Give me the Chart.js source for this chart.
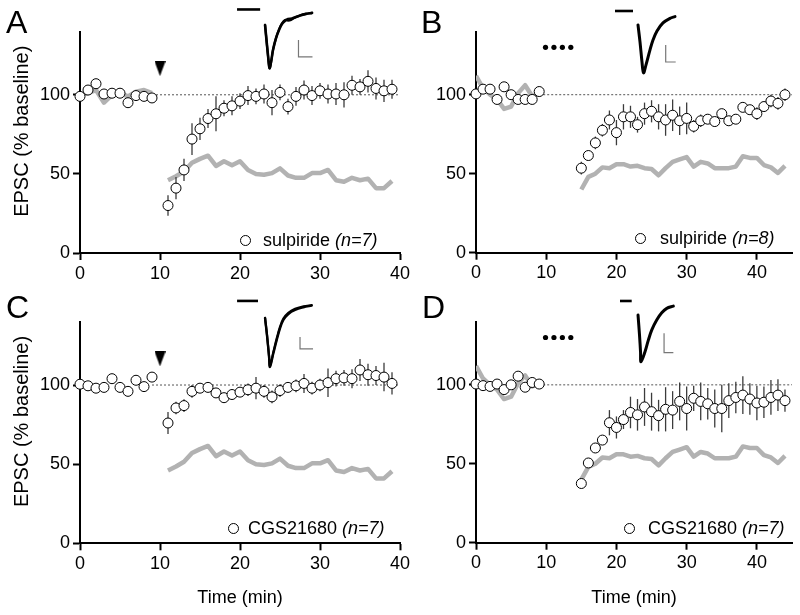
<!DOCTYPE html>
<html>
<head>
<meta charset="utf-8">
<script src="https://cdn.jsdelivr.net/npm/chart.js@4.4.0/dist/chart.umd.min.js"></script>
<style>
body { margin: 0; background: #fff; }
#fig { position: relative; width: 800px; height: 615px; overflow: hidden; font-family: 'Liberation Sans', Arial, sans-serif; color: #000; }
canvas { position: absolute; }
.lbl { position: absolute; font-size: 32px; line-height: 32px; }
.leg { position: absolute; font-size: 18px; line-height: 22px; white-space: nowrap; }
.ring { position: absolute; width: 9px; height: 9px; border: 1px solid #000; border-radius: 50%; background: #fff; }
</style>
</head>
<body>
<div id="fig">
  <canvas id="chartA" width="420" height="300" style="left:0;top:0"></canvas>
  <canvas id="chartB" width="400" height="300" style="left:400px;top:0"></canvas>
  <canvas id="chartC" width="420" height="325" style="left:0;top:290px"></canvas>
  <canvas id="chartD" width="400" height="325" style="left:400px;top:290px"></canvas>

  <canvas id="insetA" width="90" height="72" style="left:232px;top:3px"></canvas>
  <canvas id="insetB" width="78" height="75" style="left:612px;top:3px"></canvas>
  <canvas id="insetC" width="90" height="79" style="left:232px;top:293px"></canvas>
  <canvas id="insetD" width="78" height="77" style="left:612px;top:293px"></canvas>

  <div class="lbl" style="left:6px;top:6px">A</div>
  <div class="lbl" style="left:421px;top:6px">B</div>
  <div class="lbl" style="left:6px;top:291px">C</div>
  <div class="lbl" style="left:422px;top:291px">D</div>

  <div class="ring" style="left:239.5px;top:234.5px"></div>
  <div class="leg" style="left:263px;top:229px">sulpiride <i>(n=7)</i></div>
  <div class="ring" style="left:634.5px;top:232.5px"></div>
  <div class="leg" style="left:660px;top:227px">sulpiride <i>(n=8)</i></div>
  <div class="ring" style="left:228px;top:522.5px"></div>
  <div class="leg" style="left:248px;top:517px">CGS21680 <i>(n=7)</i></div>
  <div class="ring" style="left:623.5px;top:522.5px"></div>
  <div class="leg" style="left:648px;top:517px">CGS21680 <i>(n=7)</i></div>
</div>

<script>
// ---- data (time in min, EPSC in % baseline) ----
const tAC = [0,1,2,3,4,5,6,7,8,9,11,12,13,14,15,16,17,18,19,20,21,22,23,24,25,26,27,28,29,30,31,32,33,34,35,36,37,38,39];
const tBD = [0,1,2,3,4,5,6,7,8,9,15,16,17,18,19,20,21,22,23,24,25,26,27,28,29,30,31,32,33,34,35,36,37,38,39,40,41,42,43,44];

const epscA = [99,103,107,100.5,101,101,95,99.5,99,98, 30,41,52.5,72,78.5,85,88,91.5,93,96,99.5,99,100.5,95,101.5,92.5,99,103,99.5,102.5,100.5,100.5,100,106,105,108.5,104,102.5,103.5];
const semA  = [2,2,2,2,2,2,2,2,2,2, 6.5,7,7,10,7,6,11,5,6,5,6,5,6,8,5,5,6,6,6,5,6,7,8,6,5,7,7,7,6];
const epscC = [100.5,99.5,98,98.5,104,98.5,96,103,99,105, 76,85.5,87,96,98,98.5,95,92,94,95.5,97,98,96,92.5,96.5,98.5,99.5,101,98,100,101.5,104,104.5,104,109.5,106.5,106,105,101];
const semC  = [2,2,2,2,2,2,2,2,2,2, 7,4,4,4,3,3,3,3,3,3,4,7,4,4,4,3,4,6,4,4,9,5,5,6,7,7,6,9,7];
const ctrlAC = [100,101,103,95,100,101,99,102,103,101, 46,48.5,51.5,57,59.5,61.5,55,58,55.5,58,52.5,50,49.5,50.5,53.5,49,47.5,47.5,50.5,50.5,52.5,46,45,47.5,46,47,41,41,45.5];

const epscB = [100.5,103.5,103.5,97,105,100,97,97,97,102, 53.5,61.5,69.5,77.5,84,76,86,86,81,88,89.5,86,84,87,83.5,85,80,83.5,84.5,83,88,83.5,84.5,92,90.5,88,92.5,96,94.5,100];
const semB  = [2,2,2,2,2,2,2,2,2,2, 4,3,4,4,6,8,8,7,5,7,7,8,10,10,9,10,4,4,3,3,3,3,3,3,3,4,3,4,4,4];
const epscD = [100.5,99.5,99,100.5,97,100,105.5,98.5,101.5,100.5, 37.5,50.5,60,65,76,73,78,82.5,81,86,83,80.5,84.5,84,89.5,85,91.5,89.5,88,85,85,90,92,93.5,91,88.5,89,92,93.5,90];
const semD  = [2,2,2,2,2,2,2,2,2,2, 2,3,3,3,8,7,6,10,10,12,12,10,14,12,12,14,8,12,10,12,15,11,10,12,10,11,10,11,10,7];
const ctrlBD = [112,104,100,97,91,92.5,101,106,99,101, 40,48,50,54,53.5,56,56,54.5,55,53.5,53,49,53.5,57.5,59,60.5,54.5,57.5,56.5,53.5,53.5,53.5,54.5,61,60,60,55.5,54,50.5,55];

const xTicksAC = [0,10,20,30,40];
const xTicksBD = [0,10,20,30,40];
const yTicks   = [0,50,100];

// drug application markers
const arrowT = [10],  arrowY = [116.5];
const trainT = [9.9,11.1,12.3,13.5], trainY = [130,130,130,130];

// inset traces (ms, arbitrary current units; scale bar = 10 x 10)
const stimA_t = [-20,-3.5], stimA_i = [9.1,9.1];
const trA1_t = [0,0.7,2.1,3.2,4.3,5.7,7.9,10,12.1,14.3,16.4,19.3,22.1,25,29.3,33.6];
const trA1_i = [0,-5.9,-17.6,-25.3,-21.8,-14.7,-7.6,-2.9,0.6,2.4,3.5,3.8,4.7,5.6,6.5,7.1];
const trA2_t = [0,0.7,2.1,3.3,4.4,5.8,8,10,12.1,14.3,16.4,18.6,20.7,25,29.3,33.6];
const trA2_i = [0,-6,-18,-25.5,-21.5,-14.3,-7.3,-2.6,0.9,2.9,2.6,2.9,4.1,5.6,6.5,7.1];
const barA_t = [23.9,23.9,33.9], barA_i = [-8.8,-18.8,-18.8];

const stimB_t = [-23,-5], stimB_i = [8.2,8.2];
const trB_t = [0,2,4,5.5,8,12,15,19,25,32,37];
const trB_i = [0,-10,-21.8,-28.2,-23.5,-14.7,-8.8,-3.5,1.2,3.9,4.9];
const barB_t = [27.7,27.7,37.7], barB_i = [-11.8,-21.8,-21.8];

const stimC_t = [-21.5,-5.4], stimC_i = [14.2,14.2];
const trC1_t = [0,1.5,3.1,3.8,6.4,9,11.5,14.1,17.9,23.1,29.5,35.9];
const trC1_i = [0,-14.2,-32.5,-40.8,-29.4,-18.3,-8.6,-1.7,3.3,6.7,8.9,10.3];
const trC2_i = [0,-14,-32,-40,-28.4,-17,-7.4,-0.5,4.3,7.6,9.6,10.8];
const barC_t = [26.9,26.9,36.9], barC_i = [-15.8,-25.8,-25.8];

const stimD_t = [-19.4,-6.8], stimD_i = [7.4,7.4];
const trD_t = [0,1.6,2.7,3.2,7.5,11.1,14.7,20.1,25.5,30.9,38];
const trD_i = [0,-10.5,-19.5,-24.6,-19.3,-13.2,-7.9,-2.6,1.2,3.5,4.7];
const barD_t = [28,28,38], barD_i = [-9.6,-19.8,-19.8];

Chart.defaults.font.family = "'Liberation Sans', Arial, sans-serif";
Chart.defaults.color = '#000';

const zip = (xs, ys) => xs.map((x, i) => ({ x: x, y: ys[i] }));

// split a series into runs of consecutive minutes (gap = no line)
function segments(ts, ys, skipBase) {
    const out = [];
    let cur = [];
    ts.forEach((t, i) => {
        if (cur.length && t - cur[cur.length - 1].x > 1) { out.push(cur); cur = []; }
        cur.push({ x: t, y: ys[i] });
    });
    if (cur.length) out.push(cur);
    return skipBase ? out.slice(1) : out;
}

// SEM bars drawn through the chart scales, behind the circles
const errorBars = {
    id: 'errorBars',
    beforeDatasetDraw(chart, args) {
        const ds = chart.data.datasets[args.index];
        if (!ds.errors) return;
        const xs = chart.scales.x, ys = chart.scales.y, c = chart.ctx;
        c.save();
        c.strokeStyle = '#3c3c3c';
        c.lineWidth = 1.3;
        ds.data.forEach((p, i) => {
            const e = ds.errors[i];
            if (!e) return;
            const px = xs.getPixelForValue(p.x);
            c.beginPath();
            c.moveTo(px, ys.getPixelForValue(p.y - e));
            c.lineTo(px, ys.getPixelForValue(p.y + e));
            c.stroke();
        });
        c.restore();
    }
};

// rotated y title, sits a bit above the axis centre like the original
const yTitle = {
    id: 'yTitle',
    afterDraw(chart, args, opts) {
        if (!opts.text) return;
        const a = chart.chartArea, c = chart.ctx;
        c.save();
        c.translate(22, (a.top + a.bottom) / 2 - 11);
        c.rotate(-Math.PI / 2);
        c.font = "20px 'Liberation Sans', Arial, sans-serif";
        c.fillStyle = '#000';
        c.textAlign = 'center';
        c.textBaseline = 'middle';
        c.fillText(opts.text, 0, 0);
        c.restore();
    }
};

// arrow head used for the single HFS train
const arrowImg = document.createElement('canvas');
arrowImg.width = 11; arrowImg.height = 15;
(function () {
    const a = arrowImg.getContext('2d');
    a.fillStyle = '#000';
    a.beginPath(); a.moveTo(0, 0); a.lineTo(11, 0); a.lineTo(5.5, 15); a.closePath(); a.fill();
})();

function makePanel(id, p) {
    const datasets = [];
    segments(p.t, p.ctrl, p.hideCtrlBase).forEach(seg => datasets.push({
        data: seg, showLine: true, borderColor: '#b2b2b2', borderWidth: 4.5,
        pointRadius: 0, order: 5, borderJoinStyle: 'round'
    }));
    datasets.push({
        data: [{ x: 9, y: 100 }, { x: p.xMax, y: 100 }], showLine: true,
        borderColor: '#555', borderWidth: 1, borderDash: [2, 2], pointRadius: 0, order: 4
    });
    if (p.arrow) {
        datasets.push({ data: zip(arrowT, arrowY), pointStyle: arrowImg, order: 3, clip: false });
    } else {
        datasets.push({ data: zip(trainT, trainY), pointRadius: 2.6, pointBackgroundColor: '#000',
            pointBorderWidth: 0, order: 3, clip: false });
    }
    datasets.push({
        data: zip(p.t, p.y), errors: p.sem, pointRadius: 5, pointBorderWidth: 1,
        pointBackgroundColor: '#fff', pointBorderColor: '#000', order: 1, clip: false
    });

    const axisGrid = { drawOnChartArea: false, drawTicks: true, tickLength: 7, tickWidth: 2, tickColor: '#000' };
    new Chart(document.getElementById(id), {
        type: 'scatter',
        data: { datasets: datasets },
        options: {
            responsive: false,
            animation: false,
            events: [],
            layout: { padding: { left: 0, top: p.top, right: p.right, bottom: 0 } },
            plugins: {
                legend: { display: false },
                tooltip: { enabled: false },
                yTitle: { text: p.yTitle }
            },
            scales: {
                x: {
                    type: 'linear', min: 0, max: p.xMax,
                    afterBuildTicks: s => { s.ticks = p.xTicks.map(v => ({ value: v })); },
                    afterFit: s => { s.height = p.xh; },
                    grid: axisGrid,
                    border: { color: '#000', width: 2 },
                    ticks: { font: { size: 18 }, color: '#000', padding: 3, maxRotation: 0, autoSkip: false },
                    title: { display: !!p.xTitle, text: p.xTitle || '', font: { size: 18 },
                             color: '#000', padding: { top: 0, bottom: 6 } }
                },
                y: {
                    type: 'linear', min: 0, max: 140,
                    afterBuildTicks: s => { s.ticks = yTicks.map(v => ({ value: v })); },
                    afterFit: s => { s.width = p.yw; },
                    grid: axisGrid,
                    border: { color: '#000', width: 2 },
                    ticks: { font: { size: 18 }, color: '#000', padding: 3 }
                }
            }
        },
        plugins: [errorBars, yTitle]
    });
}

makePanel('chartA', { t: tAC, y: epscA, sem: semA, ctrl: ctrlAC, xMax: 40, xTicks: xTicksAC, arrow: true,
    top: 31.5, right: 20, yw: 80, xh: 47, yTitle: 'EPSC (% baseline)' });
makePanel('chartC', { t: tAC, y: epscC, sem: semC, ctrl: ctrlAC, hideCtrlBase: true, xMax: 40, xTicks: xTicksAC, arrow: true,
    top: 31.7, right: 20, yw: 80, xh: 71.7, yTitle: 'EPSC (% baseline)', xTitle: 'Time (min)' });
makePanel('chartB', { t: tBD, y: epscB, sem: semB, ctrl: ctrlBD, xMax: 45, xTicks: xTicksBD, arrow: false,
    top: 31.5, right: 8, yw: 76, xh: 47.3 });
makePanel('chartD', { t: tBD, y: epscD, sem: semD, ctrl: ctrlBD, xMax: 45, xTicks: xTicksBD, arrow: false,
    top: 31.7, right: 8, yw: 76, xh: 72.3, xTitle: 'Time (min)' });

function makeInset(id, sets, xr, yr) {
    new Chart(document.getElementById(id), {
        type: 'scatter',
        data: { datasets: sets },
        options: {
            responsive: false, animation: false, events: [],
            layout: { padding: 0 },
            plugins: { legend: { display: false }, tooltip: { enabled: false } },
            scales: {
                x: { display: false, min: xr[0], max: xr[1] },
                y: { display: false, min: yr[0], max: yr[1] }
            }
        }
    });
}
const trace = (t, i, w) => ({ data: zip(t, i), showLine: true, borderColor: '#000', borderWidth: w,
    pointRadius: 0, tension: 0.35, borderCapStyle: 'round' });
const stim = (t, i) => ({ data: zip(t, i), showLine: true, borderColor: '#000', borderWidth: 2.6, pointRadius: 0 });
const sbar = (t, i) => ({ data: zip(t, i), showLine: true, borderColor: '#777', borderWidth: 1.2, pointRadius: 0 });

makeInset('insetA', [stim(stimA_t, stimA_i), trace(trA1_t, trA1_i, 2.6), trace(trA2_t, trA2_i, 2.2), sbar(barA_t, barA_i)],
    [-23.6, 40.7], [-29.4, 12.9]);
makeInset('insetB', [stim(stimB_t, stimB_i), trace(trB_t, trB_i, 3), sbar(barB_t, barB_i)],
    [-26, 52], [-31.2, 12.9]);
makeInset('insetC', [stim(stimC_t, stimC_i), trace(trC1_t, trC1_i, 2.4), trace(trC1_t, trC2_i, 2.2), sbar(barC_t, barC_i)],
    [-25.4, 43.8], [-45, 20.8]);
makeInset('insetD', [stim(stimD_t, stimD_i), trace(trD_t, trD_i, 3), sbar(barD_t, barD_i)],
    [-28, 55.9], [-28.9, 11.6]);
</script>
</body>
</html>
